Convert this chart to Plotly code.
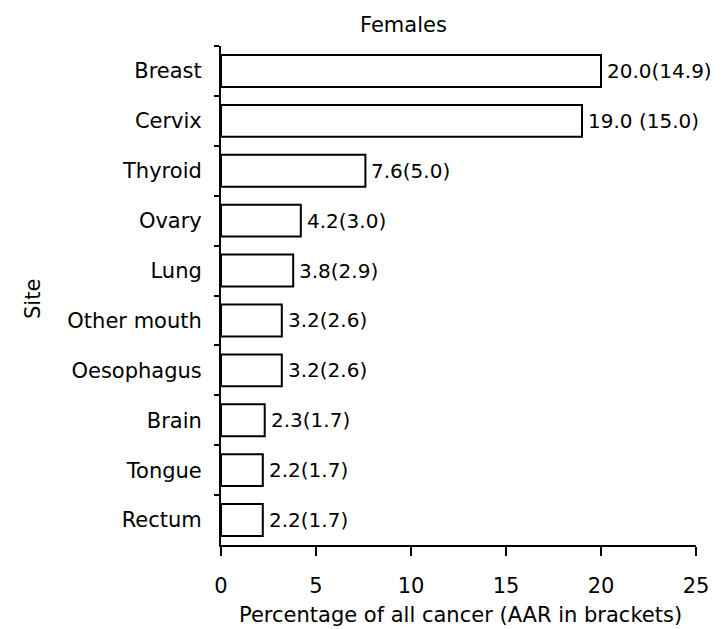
import plotly.graph_objects as go

sites = ["Breast", "Cervix", "Thyroid", "Ovary", "Lung", "Other mouth",
         "Oesophagus", "Brain", "Tongue", "Rectum"]
percent = [20.0, 19.0, 7.6, 4.2, 3.8, 3.2, 3.2, 2.3, 2.2, 2.2]
bar_labels = ["20.0(14.9)", "19.0 (15.0)", "7.6(5.0)", "4.2(3.0)", "3.8(2.9)",
              "3.2(2.6)", "3.2(2.6)", "2.3(1.7)", "2.2(1.7)", "2.2(1.7)"]
x_ticks = [0, 5, 10, 15, 20, 25]

FONT = "DejaVu Sans, Liberation Sans, Arial, sans-serif"
FS = 21
W, H = 723, 629
L, R, T, B = 213, 35, 38, 92
PW, PH = W - L - R, H - T - B


def px(x):
    return (x - L) / PW


def py(y):
    return (H - B - y) / PH


fig = go.Figure()
fig.add_trace(go.Bar(
    x=percent, y=sites, orientation="h",
    marker=dict(color="white", line=dict(color="black", width=2)),
    width=0.64, showlegend=False, hoverinfo="skip",
))

for s, v, t in zip(sites, percent, bar_labels):
    fig.add_annotation(x=v, y=s, text=t, showarrow=False, xanchor="left",
                       xshift=4, font=dict(size=FS - 1, color="black", family=FONT))

fig.add_annotation(x=px(395), y=py(17), xref="paper", yref="paper", text="Females",
                   showarrow=False, xanchor="center", yanchor="middle",
                   font=dict(size=FS, color="black", family=FONT))
fig.add_annotation(x=px(25), y=py(291), xref="paper", yref="paper", text="Site",
                   showarrow=False, xanchor="center", yanchor="middle", textangle=-90,
                   font=dict(size=FS, color="black", family=FONT))
fig.add_annotation(x=px(452), y=py(607), xref="paper", yref="paper",
                   text="Percentage of all cancer (AAR in brackets)",
                   showarrow=False, xanchor="center", yanchor="middle",
                   font=dict(size=FS, color="black", family=FONT))

fig.update_layout(
    width=W, height=H,
    margin=dict(l=L, r=R, t=T, b=B),
    paper_bgcolor="white", plot_bgcolor="white",
    font=dict(family=FONT, size=FS, color="black"),
    xaxis=dict(range=[0, 25], tickvals=x_ticks, ticks="outside", ticklen=9,
               tickwidth=2, tickcolor="black", showline=True, linecolor="black",
               linewidth=2, showgrid=False, zeroline=False,
               ticklabelstandoff=12),
    yaxis=dict(autorange="reversed", ticks="outside", tickson="boundaries",
               ticklen=5, tickwidth=2, tickcolor="black", showline=True,
               linecolor="black", linewidth=2, showgrid=False,
               ticklabelstandoff=13),
)

fig.write_html("out.html")
